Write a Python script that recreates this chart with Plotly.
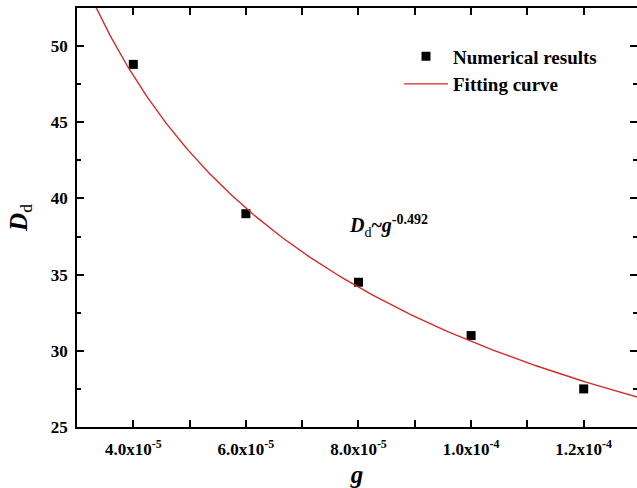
import numpy as np
import plotly.graph_objects as go

# Numerical results: droplet size D_d versus g
g_values = [4.0e-5, 6.0e-5, 8.0e-5, 1.0e-4, 1.2e-4]
dd_values = [48.8, 39.0, 34.5, 31.0, 27.5]

# Power-law fit D_d = A * g^n
fit_exponent = -0.492
fit_prefactor = 0.3296

x_tick_vals = [4.0e-5, 6.0e-5, 8.0e-5, 1.0e-4, 1.2e-4]
x_tick_text = ["<b>4.0x10<sup>-5</sup></b>", "<b>6.0x10<sup>-5</sup></b>", "<b>8.0x10<sup>-5</sup></b>",
               "<b>1.0x10<sup>-4</sup></b>", "<b>1.2x10<sup>-4</sup></b>"]
y_tick_vals = [25, 30, 35, 40, 45, 50]
y_tick_text = ["<b>25</b>", "<b>30</b>", "<b>35</b>", "<b>40</b>", "<b>45</b>", "<b>50</b>"]

x_range = [3.0e-5, 1.2947e-4]
y_range = [25, 52.5]

g_fit = np.linspace(3.0e-5, 1.32e-4, 300)
dd_fit = fit_prefactor * g_fit ** fit_exponent

FONT = "Liberation Serif, Times New Roman, serif"
Y_MINOR = [27.5, 32.5, 37.5, 42.5, 47.5, 52.5]

fig = go.Figure()
fig.add_trace(go.Scatter(
    x=g_values, y=dd_values, mode="markers", name="<b>Numerical results</b>",
    marker=dict(symbol="square", size=9, color="black"),
))
fig.add_trace(go.Scatter(
    x=g_fit, y=dd_fit, mode="lines", name="<b>Fitting curve</b>",
    line=dict(color="#d22b2b", width=1.4),
))
# carrier for the right-hand tick axis
fig.add_trace(go.Scatter(
    x=[g_values[0]], y=[dd_values[0]], yaxis="y2", mode="markers",
    marker=dict(opacity=0), showlegend=False, hoverinfo="skip",
))

fig.add_annotation(
    x=7.8e-5, y=38.2, xref="x", yref="y", xanchor="left", yanchor="middle",
    text="<b><i>D</i></b><sub>d</sub><b>~<i>g</i><sup>-0.492</sup></b>",
    showarrow=False, font=dict(family=FONT, size=20, color="black"),
)

fig.update_layout(
    width=637, height=488,
    margin=dict(l=77, r=0, t=8, b=61),
    paper_bgcolor="white", plot_bgcolor="white",
    font=dict(family=FONT, color="black"),
    showlegend=True,
    legend=dict(
        x=0.575, y=0.93, xanchor="left", yanchor="top",
        bgcolor="rgba(0,0,0,0)", font=dict(family=FONT, size=19, color="black"),
        itemwidth=44,
    ),
    xaxis=dict(
        range=x_range, tickvals=x_tick_vals, ticktext=x_tick_text,
        showline=True, linecolor="black", linewidth=1.5, mirror="allticks",
        ticks="inside", ticklen=7, tickwidth=1.5, tickcolor="black",
        minor=dict(ticks="inside", ticklen=4, tickwidth=1.5, tickcolor="black",
                   tickvals=[3.0e-5, 5.0e-5, 7.0e-5, 9.0e-5, 1.1e-4]),
        showgrid=False, zeroline=False, ticklabelstandoff=6,
        tickfont=dict(family=FONT, size=17, color="black"),
        title=dict(text="<b><i>g</i></b>", font=dict(family=FONT, size=25, color="black"),
                   standoff=8),
    ),
    yaxis=dict(
        range=y_range, tickvals=y_tick_vals, ticktext=y_tick_text,
        showline=True, linecolor="black", linewidth=1.5,
        ticks="inside", ticklen=7, tickwidth=1.5, tickcolor="black",
        minor=dict(ticks="inside", ticklen=4, tickwidth=1.5, tickcolor="black",
                   tickvals=Y_MINOR),
        showgrid=False, zeroline=False, ticklabelstandoff=4,
        tickfont=dict(family=FONT, size=17, color="black"),
        title=dict(text="<b><i>D</i></b><sub>d</sub>",
                   font=dict(family=FONT, size=25, color="black"), standoff=16),
    ),
    yaxis2=dict(
        range=y_range, tickvals=y_tick_vals, overlaying="y", side="right",
        showline=False, showticklabels=False, showgrid=False, zeroline=False,
        ticks="inside", ticklen=7, tickwidth=1.5, tickcolor="black",
        minor=dict(ticks="inside", ticklen=4, tickwidth=1.5, tickcolor="black",
                   tickvals=Y_MINOR),
    ),
)

fig.write_html("out.html")
